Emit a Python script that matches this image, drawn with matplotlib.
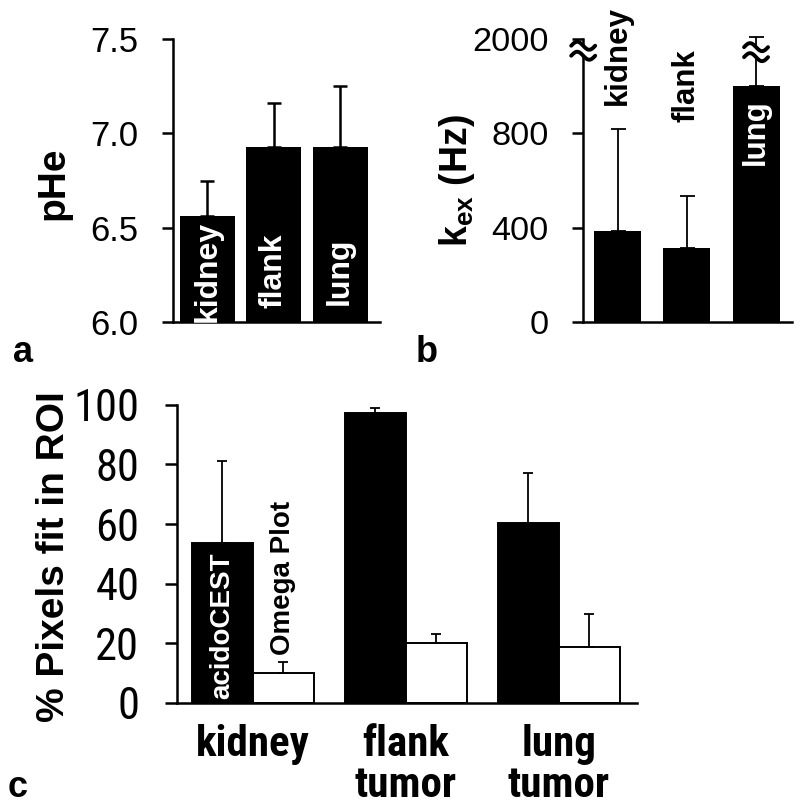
import numpy as np
import matplotlib.pyplot as plt
import matplotlib.transforms as mtransforms
from matplotlib import font_manager as fm

plt.rcParams['font.family'] = ['Liberation Sans', 'DejaVu Sans']
plt.rcParams['mathtext.fontset'] = 'custom'
plt.rcParams['mathtext.rm'] = 'Liberation Sans'
plt.rcParams['mathtext.bf'] = 'Liberation Sans:bold'

# pick a narrow face for panel c if one is installed
_fonts = [(f.name, f.stretch) for f in fm.fontManager.ttflist]
_names = {n for n, _ in _fonts}
NARROW, STRETCH = 'Liberation Sans', 'normal'
for cand in ['Liberation Sans Narrow', 'Arial Narrow', 'Roboto Condensed',
             'Open Sans Condensed', 'Noto Sans Condensed']:
    if cand in _names:
        NARROW = cand
        break

# panel a: extracellular pH
sites = ['kidney', 'flank', 'lung']
phe_mean = [6.56, 6.93, 6.93]
phe_sd = [0.19, 0.23, 0.32]

# panel b: exchange rate (axis broken above 800 Hz, lung drawn on compressed scale)
kex_mean = [385, 313, 1003]
kex_sd = [432, 220, 207]
kex_ticks = [0, 400, 800, 1200]
kex_ticklabels = ['0', '400', '800', '2000']

# panel c: % pixels fit in ROI
groups = ['kidney', 'flank\ntumor', 'lung\ntumor']
acido_mean = [53.7, 97.3, 60.4]
acido_sd = [27.3, 1.7, 16.8]
omega_mean = [10.0, 20.1, 18.8]
omega_sd = [3.8, 3.1, 11.1]

fig = plt.figure(figsize=(8, 8.08), dpi=100)


def style(ax, fs, pad, family=None):
    for s in ['top', 'right']:
        ax.spines[s].set_visible(False)
    for s in ['left', 'bottom']:
        ax.spines[s].set_linewidth(1.8)
    ax.tick_params(axis='y', direction='out', length=8, width=1.8, labelsize=fs, pad=pad)
    ax.tick_params(axis='x', length=0, labelbottom=False)
    if family:
        for t in ax.get_yticklabels():
            t.set_family(family)


def axis_break(ax, xd, yd):
    # two stacked tildes with a white gap, drawn in inches around (xd, yd)
    tr = fig.dpi_scale_trans + mtransforms.ScaledTranslation(xd, yd, ax.transData)
    t = np.linspace(-1, 1, 40)
    xs = 0.12 * t
    wave = -0.04 * np.sin(np.pi * t)
    ax.fill_between(xs, wave - 0.05, wave + 0.05, color='white', transform=tr,
                    clip_on=False, zorder=5)
    for off in [0.05, -0.05]:
        ax.plot(xs, wave + off, color='black', lw=2.8, transform=tr, clip_on=False,
                zorder=6, solid_capstyle='round')


# ---- a ----
axa = fig.add_axes([0.216, 0.6015, 0.259, 0.350])
x = np.arange(3)
axa.bar(x, phe_mean, width=0.83, color='black')
axa.errorbar(x, phe_mean, yerr=[np.zeros(3), phe_sd], fmt='none', ecolor='black',
             elinewidth=1.8, capsize=4.7, capthick=1.8)
axa.set_ylim(6.0, 7.5)
axa.set_xlim(-0.52, 2.6)
axa.set_yticks([6.0, 6.5, 7.0, 7.5])
axa.set_yticklabels(['6.0', '6.5', '7.0', '7.5'])
style(axa, 25, 17)
axa.set_ylabel('pHe', fontsize=28, fontweight='bold')
axa.yaxis.set_label_coords(-0.49, 0.49)
for xi, name in zip(x, sites):
    axa.text(xi, 6.27, name, rotation=90, ha='center', va='center', color='white',
             fontsize=23, fontweight='bold')

# ---- b ----
axb = fig.add_axes([0.729, 0.6015, 0.261, 0.350])
axb.bar(x, kex_mean, width=0.68, color='black')
axb.errorbar(x, kex_mean, yerr=[np.zeros(3), kex_sd], fmt='none', ecolor='black',
             elinewidth=1.3, capsize=5.4, capthick=1.3, clip_on=False)
axb.set_ylim(0, 1200)
axb.set_xlim(-0.5, 2.52)
axb.set_yticks(kex_ticks)
axb.set_yticklabels(kex_ticklabels)
style(axb, 24.7, 17)
axb.set_ylabel(r'k$_{\mathbf{ex}}$ (Hz)', fontsize=27, fontweight='bold')
axb.yaxis.set_label_coords(-0.51, 0.5)
axb.text(0, 1130, 'kidney', rotation=90, ha='center', va='center', fontsize=22.5,
         fontweight='bold')
axb.text(1, 1003, 'flank', rotation=90, ha='center', va='center', fontsize=22.5,
         fontweight='bold')
axb.text(2, 804, 'lung', rotation=90, ha='center', va='center', color='white',
         fontsize=22.5, fontweight='bold')
axis_break(axb, -0.5, 1151)
axis_break(axb, 2, 1145)

# ---- c ----
axc = fig.add_axes([0.221, 0.130, 0.575, 0.369])
w = 0.4
axc.bar(x - w / 2, acido_mean, width=w, color='black', edgecolor='black', linewidth=1.4)
axc.bar(x + w / 2, omega_mean, width=w, color='white', edgecolor='black', linewidth=1.4)
axc.errorbar(x - w / 2, acido_mean, yerr=[np.zeros(3), acido_sd], fmt='none',
             ecolor='black', elinewidth=1.3, capsize=3.6, capthick=1.3)
axc.errorbar(x + w / 2, omega_mean, yerr=[np.zeros(3), omega_sd], fmt='none',
             ecolor='black', elinewidth=1.3, capsize=3.6, capthick=1.3)
axc.set_ylim(0, 100)
axc.set_xlim(-0.497, 2.51)
axc.set_yticks([0, 20, 40, 60, 80, 100])
style(axc, 32, 18, NARROW)
axc.tick_params(axis='y', length=9)
axc.set_ylabel('% Pixels fit in ROI', fontsize=28, fontweight='bold')
axc.yaxis.set_label_coords(-0.228, 0.49)
axc.text(-w / 2, 25.8, 'acidoCEST', rotation=90, ha='center', va='center', color='white',
         fontsize=20, fontweight='bold')
axc.text(w / 2, 41.9, 'Omega Plot', rotation=90, ha='center', va='center',
         fontsize=20, fontweight='bold')
for xi, g in zip(x, groups):
    axc.text(xi, -7.0, g, ha='center', va='top', fontsize=31, fontweight='bold',
             family=NARROW, linespacing=1.0)

# panel letters
fig.text(0.016, 0.552, 'a', fontsize=26, fontweight='bold')
fig.text(0.519, 0.552, 'b', fontsize=26, fontweight='bold')
fig.text(0.010, 0.0136, 'c', fontsize=26, fontweight='bold')

fig.savefig('out.png', dpi=100)
